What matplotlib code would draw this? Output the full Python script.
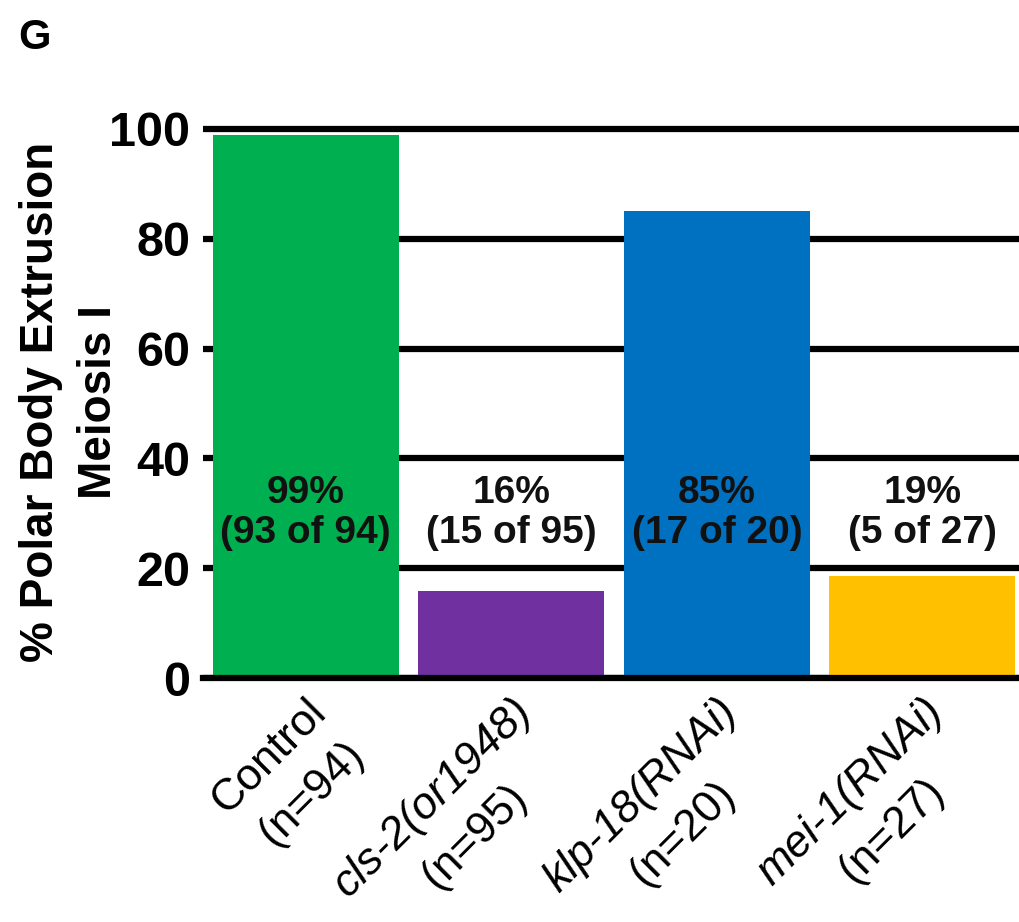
import numpy as np
import matplotlib
matplotlib.use('agg')
import matplotlib.pyplot as plt
import matplotlib.transforms as mtransforms
from matplotlib.textpath import TextPath
from matplotlib.font_manager import FontProperties

# data
names = ['Control', 'cls-2(or1948)', 'klp-18(RNAi)', 'mei-1(RNAi)']
italic = [False, True, True, True]
extruded = [93, 15, 17, 5]
totals = [94, 95, 20, 27]
colors = ['#00B050', '#7030A0', '#0070C0', '#FFC000']
yticks = [0, 20, 40, 60, 80, 100]

W, H = 1019, 922
plt.rcParams['font.family'] = ['Liberation Sans', 'DejaVu Sans']

fig = plt.figure(figsize=(W / 100, H / 100), dpi=100)
ax = fig.add_axes([203 / W, 1 - 678 / H, (W - 203) / W, (678 - 118) / H])

pct = [100 * k / n for k, n in zip(extruded, totals)]
x = list(range(len(pct)))
ax.bar(x, pct, width=0.905, color=colors, zorder=2)

ax.set_ylim(0, 102)
ax.set_xlim(-0.5, 3.47)
ax.set_yticks(yticks)
ax.set_xticks([])
ax.yaxis.grid(True, color='black', linewidth=4.5)
ax.set_axisbelow(True)
for side in ['left', 'right', 'top']:
    ax.spines[side].set_visible(False)
ax.spines['bottom'].set_linewidth(4.5)
ax.tick_params(axis='y', length=0, pad=9, labelsize=35)
for t in ax.get_yticklabels():
    t.set_fontweight('bold')

# category labels, rotated 45 degrees: italic gene name over an upright (n=..)
fs = 32
line_step = 41  # points between the two lines
ang = np.deg2rad(45)
trans = ax.get_xaxis_transform()
for xi, nm, it, n in zip(x, names, italic, totals):
    style = 'italic' if it else 'normal'
    fp = FontProperties(family='Liberation Sans', style=style, size=fs)
    w1 = TextPath((0, 0), nm, size=fs, prop=fp).get_extents().width
    t1 = mtransforms.offset_copy(trans, fig=fig, x=0, y=-9, units='points')
    ax.text(xi, 0, nm, transform=t1, rotation=45, rotation_mode='anchor',
            ha='right', va='top', fontsize=fs, fontstyle=style)
    ux, uy = -w1 / 2, -line_step
    dx = ux * np.cos(ang) - uy * np.sin(ang)
    dy = ux * np.sin(ang) + uy * np.cos(ang)
    t2 = mtransforms.offset_copy(trans, fig=fig, x=dx, y=dy - 9, units='points')
    ax.text(xi, 0, f"(n={n})", transform=t2, rotation=45, rotation_mode='anchor',
            ha='center', va='top', fontsize=fs)

# value labels
for xi, k, n in zip(x, extruded, totals):
    ax.text(xi, 30, f"{round(100 * k / n)}%\n({k} of {n})", ha='center',
            va='center', fontsize=28, fontweight='bold', linespacing=1.15,
            color='#111111', zorder=3)

# y label
fig.text(19 / W, 1 - 402 / H, '% Polar Body Extrusion\nMeiosis I', rotation=90,
         ha='left', va='center', multialignment='center', fontsize=33,
         fontweight='bold', linespacing=1.4)

# panel letter
fig.text(18 / W, 1 - 18 / H, 'G', ha='left', va='top', fontsize=30,
         fontweight='bold')

fig.savefig('out.png', dpi=100)
plt.close(fig)
